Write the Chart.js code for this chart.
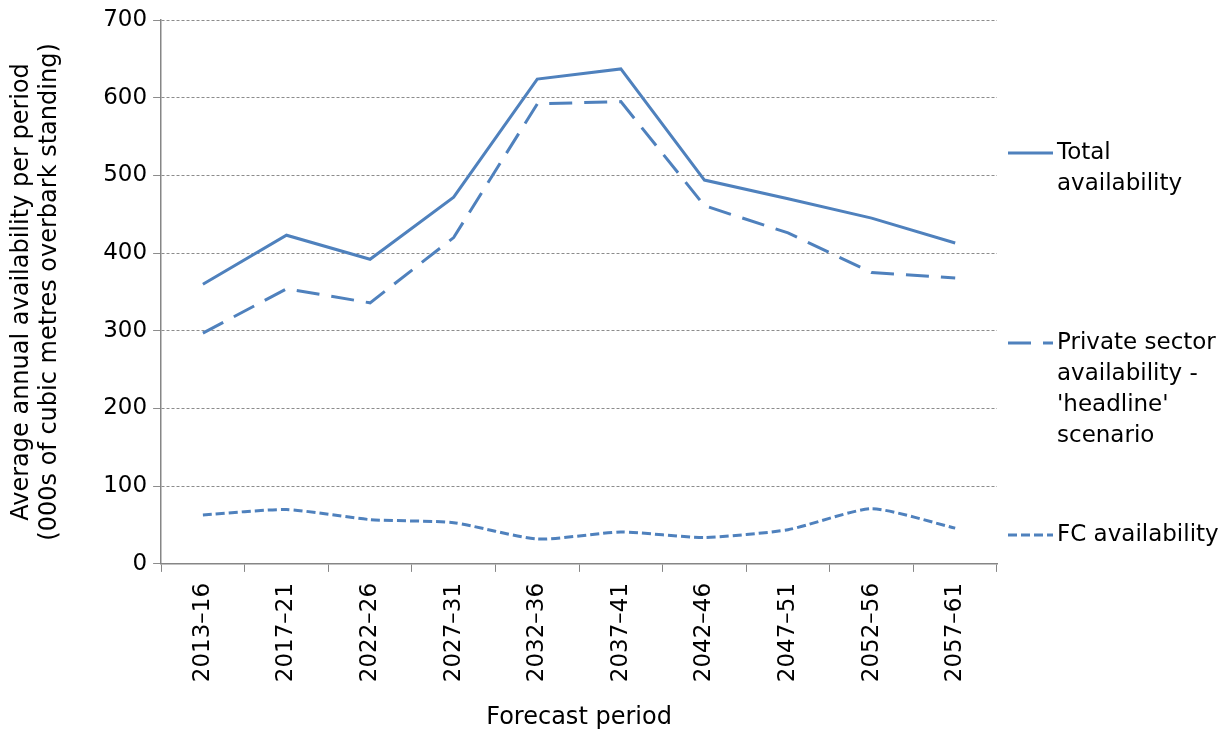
<!DOCTYPE html>
<html>
<head>
<meta charset="utf-8">
<script src="https://cdn.jsdelivr.net/npm/chart.js@4"></script>
<style>
  html, body { margin: 0; padding: 0; background: #fff; }
  #wrap { width: 1232px; height: 733px; }
</style>
</head>
<body>
<div id="wrap"><canvas id="chart" width="1232" height="733"></canvas></div>
<script>
// Forecast periods and availability (000s m3 overbark standing)
const periods = ['2013–16', '2017–21', '2022–26', '2027–31', '2032–36', '2037–41', '2042–46', '2047–51', '2052–56', '2057–61'];
const totalAvail = [360, 423, 392, 472, 624, 637, 494, 470, 445, 413];
const privateAvail = [297, 354, 336, 420, 592, 595, 461, 426, 375, 368];
const fcAvail = [63, 70, 57, 53, 32, 41, 34, 44, 71, 46];

const legendItems = [
    { lines: ['Total', 'availability'], dash: [], y: 153 },
    { lines: ['Private sector', 'availability -', "'headline'", 'scenario'], dash: [23, 12], y: 343 },
    { lines: ['FC availability'], dash: [9, 4], y: 535 }
];

const blue = '#4F81BD';
const font = 'DejaVu Sans, Verdana, sans-serif';

// draws the legend to the right of the plot, wrapped like the original
const sideLegend = {
    id: 'sideLegend',
    afterDraw(chart) {
        const ctx = chart.ctx;
        ctx.save();
        ctx.font = '23px ' + font;
        ctx.textBaseline = 'middle';
        ctx.fillStyle = '#000';
        legendItems.forEach(item => {
            ctx.strokeStyle = blue;
            ctx.lineWidth = 3;
            ctx.setLineDash(item.dash);
            ctx.beginPath();
            ctx.moveTo(1008, item.y);
            ctx.lineTo(1053, item.y);
            ctx.stroke();
            item.lines.forEach((t, i) => ctx.fillText(t, 1057, item.y + i * 31));
        });
        ctx.restore();
    }
};

const ctx = document.getElementById('chart').getContext('2d');
new Chart(ctx, {
    type: 'line',
    data: {
        labels: periods,
        datasets: [
            { label: 'Total availability', data: totalAvail, borderColor: blue, borderWidth: 3, pointRadius: 0, tension: 0 },
            { label: "Private sector availability - 'headline' scenario", data: privateAvail, borderColor: blue, borderWidth: 3, borderDash: [23, 12], pointRadius: 0, tension: 0 },
            { label: 'FC availability', data: fcAvail, borderColor: blue, borderWidth: 3, borderDash: [9, 4], pointRadius: 0, tension: 0.2 }
        ]
    },
    options: {
        responsive: false,
        animation: false,
        layout: { padding: { top: 20, right: 235, bottom: 1, left: 8 } },
        plugins: {
            legend: { display: false },
            tooltip: { enabled: false }
        },
        scales: {
            x: {
                offset: true,
                grid: { offset: true, drawOnChartArea: false, drawTicks: true, tickLength: 8, color: '#868686' },
                border: { color: '#868686', width: 1.5 },
                ticks: { minRotation: 90, maxRotation: 90, color: '#000', font: { family: font, size: 23 }, padding: 11 },
                title: { display: true, text: 'Forecast period', color: '#000', font: { family: font, size: 24 }, padding: { top: 10, bottom: 0 } }
            },
            y: {
                min: 0,
                max: 700,
                ticks: { stepSize: 100, color: '#000', font: { family: font, size: 23 }, padding: 6 },
                grid: { color: '#8c8c8c', tickLength: 8, lineWidth: 1 },
                border: { color: '#868686', width: 1.5, dash: [3, 2] },
                title: {
                    display: true,
                    text: ['Average annual availability per period', '(000s of cubic metres overbark standing)'],
                    color: '#000',
                    font: { family: font, size: 24, lineHeight: 1.15 },
                    padding: { top: 0, bottom: 34 }
                }
            }
        }
    },
    plugins: [sideLegend]
});
</script>
</body>
</html>
